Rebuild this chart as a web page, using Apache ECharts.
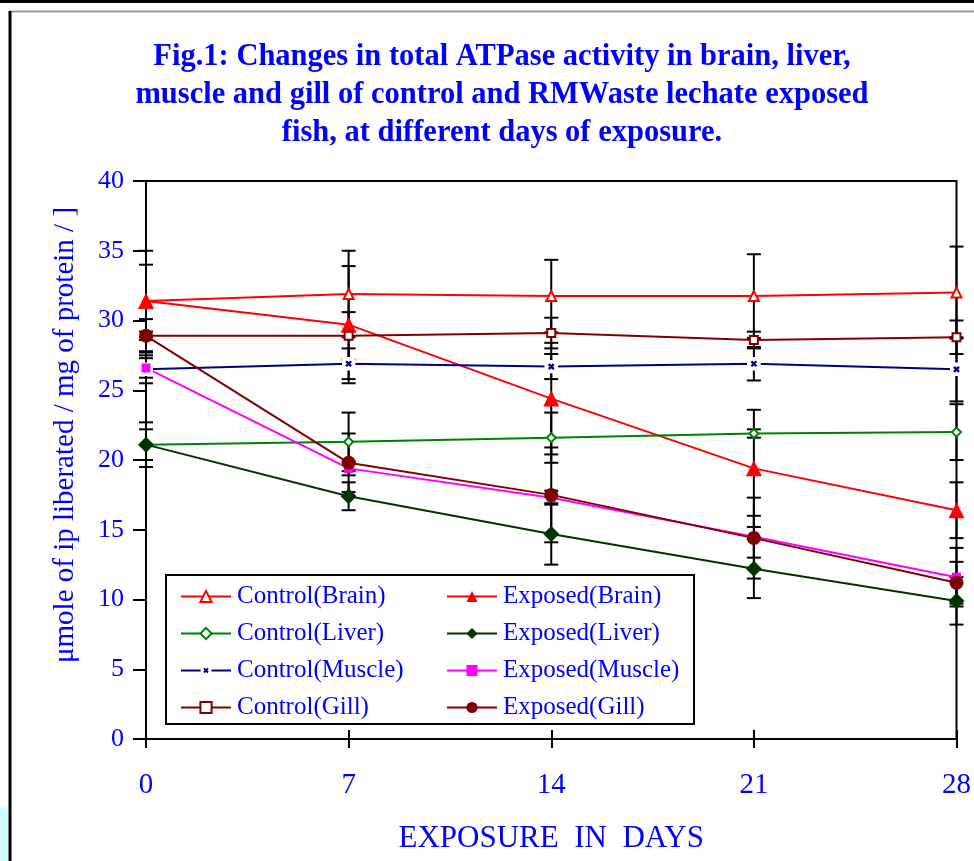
<!DOCTYPE html>
<html>
<head>
<meta charset="utf-8">
<title>ATPase activity</title>
<script src="https://cdn.jsdelivr.net/npm/echarts@6/dist/echarts.min.js"></script>
<style>
  html, body { margin: 0; padding: 0; background: #fff; }
  #main { width: 974px; height: 861px; }
</style>
</head>
<body>
<div id="main"></div>
<script>
// days of exposure
var days = [0, 7, 14, 21, 28];
var yTicks = [0, 5, 10, 15, 20, 25, 30, 35, 40];

// mean values
var controlBrain  = [31.4, 31.9, 31.75, 31.75, 32.0];
var exposedBrain  = [31.4, 29.7, 24.4, 19.4, 16.4];
var controlLiver  = [21.1, 21.3, 21.6, 21.9, 22.0];
var exposedLiver  = [21.1, 17.4, 14.7, 12.2, 9.9];
var controlMuscle = [26.5, 26.9, 26.7, 26.9, 26.5];
var exposedMuscle = [26.6, 19.4, 17.3, 14.5, 11.6];
var controlGill   = [28.9, 28.9, 29.1, 28.6, 28.8];
var exposedGill   = [28.9, 19.8, 17.5, 14.4, 11.2];

// +/- error (SD) for each point
var errControlBrain  = [3.6, 3.1, 2.6, 3.0, 3.3];
var errExposedBrain  = [2.6, 4.2, 4.0, 4.2, 2.0];
var errControlLiver  = [1.6, 2.1, 1.8, 0.3, 2.0];
var errExposedLiver  = [1.1, 1.0, 2.2, 2.1, 1.7];
var errControlMuscle = [1.0, 1.1, 0.9, 1.2, 2.3];
var errExposedMuscle = [0.7, 0.5, 0.5, 1.5, 2.1];
var errControlGill   = [1.2, 1.7, 1.1, 0.6, 1.2];
var errExposedGill   = [0.3, 2.1, 3.4, 2.9, 1.5];

var blue = '#0000FF';
var serif = 'Liberation Serif';

// small navy x on a white square, like the excel marker
var xMark = "image://data:image/svg+xml;utf8," +
  "<svg xmlns='http://www.w3.org/2000/svg' width='14' height='14'>" +
  "<rect width='14' height='14' fill='white'/>" +
  "<path d='M4.5 4.5L9.5 9.5M9.5 4.5L4.5 9.5' stroke='%23000080' stroke-width='2.4'/></svg>";

var seriesDefs = [
  {name: 'Control(Brain)',  vals: controlBrain,  err: errControlBrain,  color: '#FF0000', symbol: 'triangle', size: 10, open: true},
  {name: 'Exposed(Brain)',  vals: exposedBrain,  err: errExposedBrain,  color: '#FF0000', symbol: 'triangle', size: 16, open: false},
  {name: 'Control(Liver)',  vals: controlLiver,  err: errControlLiver,  color: '#008000', symbol: 'diamond',  size: 9,  open: true},
  {name: 'Exposed(Liver)',  vals: exposedLiver,  err: errExposedLiver,  color: '#003300', symbol: 'diamond',  size: 16, open: false},
  {name: 'Control(Muscle)', vals: controlMuscle, err: errControlMuscle, color: '#000080', symbol: xMark,      size: 14, open: false},
  {name: 'Exposed(Muscle)', vals: exposedMuscle, err: errExposedMuscle, color: '#FF00FF', symbol: 'rect',     size: 9,  open: false},
  {name: 'Control(Gill)',   vals: controlGill,   err: errControlGill,   color: '#800000', symbol: 'rect',     size: 8,  open: true},
  {name: 'Exposed(Gill)',   vals: exposedGill,   err: errExposedGill,   color: '#800000', symbol: 'circle',   size: 14, open: false}
];

// error bar rows: [day, low, high]
var errRows = [];
seriesDefs.forEach(function (s) {
  days.forEach(function (d, i) {
    errRows.push([d, s.vals[i] - s.err[i], s.vals[i] + s.err[i]]);
  });
});

var series = [{
  type: 'custom',
  name: 'err',
  z: 1,
  silent: true,
  data: errRows,
  encode: {x: 0, y: [1, 2]},
  renderItem: function (params, api) {
    var x = api.value(0);
    var lo = api.coord([x, api.value(1)]);
    var hi = api.coord([x, api.value(2)]);
    var w = 7;
    var st = {stroke: '#000', lineWidth: 2};
    return {
      type: 'group',
      children: [
        {type: 'line', shape: {x1: lo[0], y1: hi[1], x2: lo[0], y2: lo[1]}, style: st},
        {type: 'line', shape: {x1: lo[0] - w, y1: hi[1], x2: lo[0] + w, y2: hi[1]}, style: st},
        {type: 'line', shape: {x1: lo[0] - w, y1: lo[1], x2: lo[0] + w, y2: lo[1]}, style: st}
      ]
    };
  }
}];

seriesDefs.forEach(function (s) {
  series.push({
    name: s.name,
    type: 'line',
    z: 3,
    data: days.map(function (d, i) { return [d, s.vals[i]]; }),
    symbol: s.symbol,
    symbolSize: s.size,
    showAllSymbol: true,
    lineStyle: {color: s.color, width: 2},
    itemStyle: s.open
      ? {color: '#fff', borderColor: s.color, borderWidth: 2}
      : {color: s.color, borderColor: s.color, borderWidth: 0},
    emphasis: {disabled: true}
  });
});

// legend: two columns (control / exposed) inside one drawn box
var legendBase = {
  orient: 'vertical',
  top: 584,
  padding: 0,
  itemWidth: 50, itemHeight: 14, itemGap: 12,
  textStyle: {fontFamily: serif, fontSize: 25, color: blue, lineHeight: 24.5, padding: [0, 0, 0, 1]},
  z: 10
};
var names = seriesDefs.map(function (s) { return s.name; });

var chart = echarts.init(document.getElementById('main'));
chart.setOption({
  animation: false,
  backgroundColor: '#fff',
  title: {
    text: 'Fig.1: Changes in total ATPase activity in brain, liver,\nmuscle and gill of control and RMWaste lechate exposed\nfish, at different days of exposure.',
    left: 502,
    textAlign: 'center',
    top: 38,
    padding: 0,
    textStyle: {
      fontFamily: serif, fontWeight: 'bold', fontSize: 30.5,
      lineHeight: 38, color: blue
    }
  },
  grid: {
    left: 146, right: 15, top: 181, bottom: 122,
    show: true, borderColor: '#000', borderWidth: 2
  },
  legend: [
    Object.assign({}, legendBase, {left: 180, data: names.filter(function (n) { return n.indexOf('Control') === 0; })}),
    Object.assign({}, legendBase, {left: 446, data: names.filter(function (n) { return n.indexOf('Exposed') === 0; })})
  ],
  xAxis: [{
    type: 'value', min: 0, max: 28, interval: 7,
    name: 'EXPOSURE  IN  DAYS',
    nameLocation: 'middle', nameGap: 84,
    nameTextStyle: {fontFamily: serif, fontSize: 31, color: blue},
    axisLine: {lineStyle: {color: '#000', width: 2}},
    axisTick: {length: 9, lineStyle: {color: '#000', width: 2}},
    axisLabel: {margin: 32, fontFamily: serif, fontSize: 29, color: blue},
    splitLine: {show: false}
  }, {
    type: 'value', min: 0, max: 28, interval: 7, position: 'bottom',
    axisLine: {show: false},
    axisTick: {inside: true, length: 9, lineStyle: {color: '#000', width: 2}},
    axisLabel: {show: false},
    splitLine: {show: false}
  }],
  yAxis: {
    type: 'value', min: yTicks[0], max: yTicks[yTicks.length - 1], interval: 5,
    name: 'μmole of ip liberated / mg of protein / ]',
    nameLocation: 'middle', nameGap: 66, nameRotate: 90,
    nameTextStyle: {fontFamily: serif, fontSize: 29, color: blue, padding: [0, 0, 0, 50]},
    axisLine: {lineStyle: {color: '#000', width: 2}},
    axisTick: {length: 13, lineStyle: {color: '#000', width: 2}},
    axisLabel: {margin: 22, fontFamily: serif, fontSize: 26, color: blue},
    splitLine: {show: false}
  },
  graphic: [
    {type: 'rect', shape: {x: 0, y: 0, width: 974, height: 3}, style: {fill: '#000'}},
    {type: 'line', shape: {x1: 9, y1: 11.5, x2: 974, y2: 11.5}, style: {stroke: '#999', lineWidth: 2}},
    {type: 'line', shape: {x1: 10, y1: 11, x2: 10, y2: 861}, style: {stroke: '#000', lineWidth: 3}},
    {type: 'rect', shape: {x: 0, y: 808, width: 8, height: 53}, style: {fill: '#CCFFFF'}},
    // legend frame
    {type: 'rect', z: 5, shape: {x: 166, y: 575, width: 528, height: 149},
      style: {fill: '#fff', stroke: '#000', lineWidth: 2}}
  ],
  series: series
});
</script>
</body>
</html>
